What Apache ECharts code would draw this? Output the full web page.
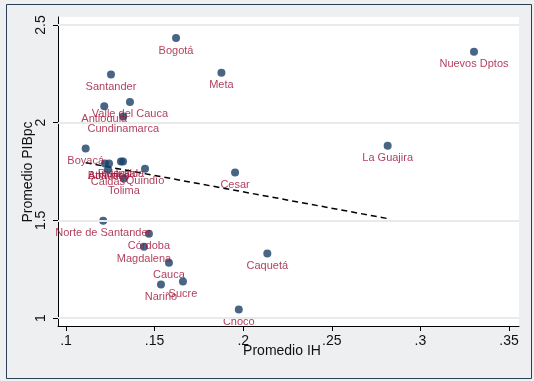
<!DOCTYPE html>
<html><head><meta charset="utf-8">
<script src="https://cdn.jsdelivr.net/npm/echarts@6/dist/echarts.min.js"></script>
<style>html,body{margin:0;padding:0;background:#fff}#c{width:534px;height:381px}</style>
</head><body><div id="c"></div>
<script>
const names = ["Bogotá","Nuevos Dptos","Meta","Santander","Valle del Cauca","Antioquia","Cundinamarca","La Guajira","Boyacá","Bolívar","Atlántico","Risaralda","Huila","Caldas","Quindío","Tolima","Cesar","Norte de Santander","Córdoba","Magdalena","Caquetá","Cauca","Sucre","Nariño","Chocó"];
const ihValues = [0.1621,0.3302,0.1877,0.1254,0.1361,0.1216,0.1323,0.2815,0.1111,0.1220,0.1243,0.1310,0.1322,0.1237,0.1446,0.1327,0.1954,0.1210,0.1468,0.1440,0.2136,0.1581,0.1660,0.1536,0.1975];
const pibValues = [2.433,2.363,2.255,2.247,2.106,2.084,2.031,1.882,1.868,1.791,1.791,1.801,1.801,1.760,1.764,1.714,1.745,1.498,1.431,1.365,1.330,1.283,1.187,1.171,1.043];
const fitX = [0.1111,0.2815];
const fitY = [1.795,1.509];
const xTicks = [0.1,0.15,0.2,0.25,0.3,0.35];
const yTicks = [1,1.5,2,2.5];

const FONT = '"Liberation Sans", Arial, sans-serif';
const chart = echarts.init(document.getElementById('c'), null, {renderer:'canvas'});
const fmtX = v => String(Math.round(v*100)/100).replace(/^0\./,'.');
chart.setOption({
  animation:false,
  backgroundColor:'#eeeff0',
  textStyle:{fontFamily:FONT},
  graphic:[
    {type:'rect', shape:{x:6.5,y:4.5,width:525,height:374}, style:{fill:'none',stroke:'#2a3f55',lineWidth:1}, z:-1},
    {type:'text', x:282, y:351, style:{text:'Promedio IH', font:'14px '+FONT, fill:'#111', align:'center', verticalAlign:'middle'}},
    {type:'text', x:28, y:172, rotation:Math.PI/2, style:{text:'Promedio PIBpc', font:'14px '+FONT, fill:'#111', align:'center', verticalAlign:'middle'}}
  ],
  grid:{left:58,right:15,top:17,bottom:55,show:true,backgroundColor:'#ffffff',borderWidth:0},
  xAxis:{type:'value',min:0.0955,max:0.3556,
    axisLine:{show:true,onZero:false,lineStyle:{color:'#000',width:1}},
    axisTick:{show:true,length:5,customValues:xTicks,lineStyle:{color:'#000'}},
    axisLabel:{customValues:xTicks,formatter:fmtX,color:'#111',fontSize:14,margin:8,fontFamily:FONT},
    splitLine:{show:false}},
  yAxis:{type:'value',min:0.959,max:2.541,
    axisLine:{show:true,onZero:false,lineStyle:{color:'#000',width:1}},
    axisTick:{show:true,length:5,customValues:yTicks,lineStyle:{color:'#000'}},
    axisLabel:{customValues:yTicks,rotate:90,formatter:v=>String(Math.round(v*10)/10),color:'#111',fontSize:14,margin:10,fontFamily:FONT},
    splitLine:{show:false}},
  series:[
    {type:'line', data:yTicks.map(()=>null), silent:true, symbol:'none',
     markLine:{silent:true,symbol:'none',label:{show:false},lineStyle:{color:'#eaeaea',width:2,type:'solid'},
       data:yTicks.map(v=>({yAxis:v}))}, z:1},
    {type:'line', data:fitX.map((x,i)=>[x,fitY[i]]), symbol:'none', silent:true,
     lineStyle:{color:'#000',width:1.5,type:[6,4]}, z:3},
    {type:'scatter', data:ihValues.map((x,i)=>({value:[x,pibValues[i]],name:names[i]})),
     symbol:'circle', symbolSize:8, itemStyle:{color:'#1a3f66'}, z:4,
     label:{show:true,position:'bottom',distance:3,formatter:p=>p.name,color:'#9e0f35',fontSize:11,fontFamily:FONT}}
  ]
});
</script></body></html>
